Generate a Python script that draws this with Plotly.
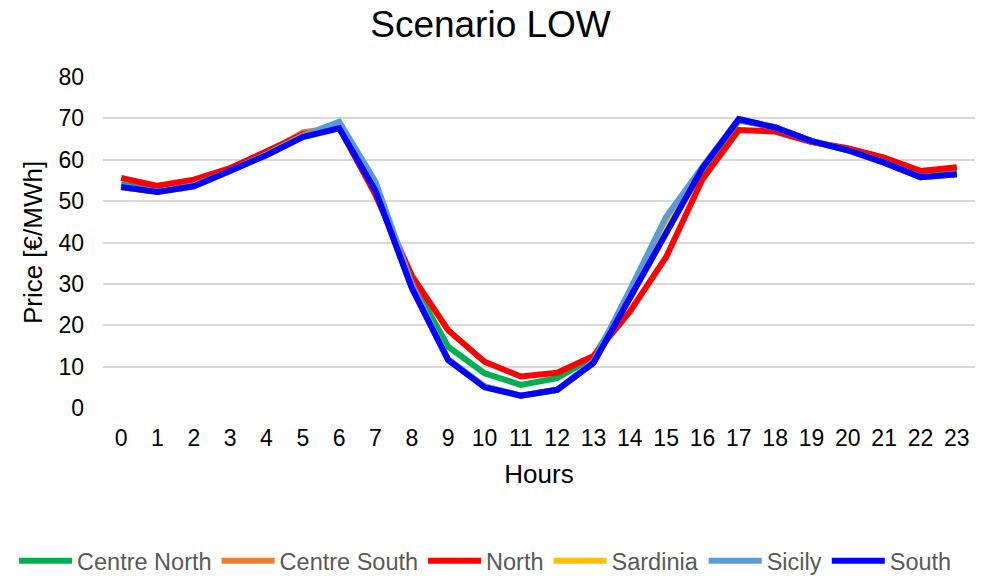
import plotly.graph_objects as go

hours = list(range(24))

centre_north = [54.0, 52.6, 54.0, 57.6, 62.0, 66.0, 68.0, 53.0, 30.5, 14.8, 8.4, 5.6, 7.2, 12.3, 26.5, 43.0, 57.5, 69.5, 67.8, 64.5, 62.5, 59.5, 56.0, 56.8]
centre_south = [53.4, 52.2, 53.6, 57.3, 61.5, 66.6, 67.9, 52.5, 29.0, 11.6, 5.2, 3.0, 4.4, 10.9, 26.5, 42.0, 58.0, 69.8, 67.8, 64.5, 62.3, 59.3, 55.8, 56.5]
north = [55.6, 53.7, 55.2, 58.0, 62.0, 66.2, 67.8, 51.5, 32.0, 18.8, 11.2, 7.6, 8.5, 12.6, 23.3, 36.5, 55.3, 67.2, 66.8, 64.3, 62.8, 60.5, 57.3, 58.2]
sardinia = [53.4, 52.2, 53.6, 57.2, 61.3, 65.8, 69.0, 54.5, 29.5, 11.6, 5.2, 3.0, 4.4, 11.0, 27.5, 44.5, 58.2, 69.8, 67.8, 64.5, 62.3, 59.3, 55.8, 56.5]
sicily = [53.6, 52.3, 53.8, 57.3, 61.3, 65.8, 69.2, 54.7, 30.0, 11.8, 5.2, 3.0, 4.4, 11.3, 28.5, 46.2, 58.3, 69.8, 67.8, 64.5, 62.3, 59.3, 55.8, 56.5]
south = [53.4, 52.2, 53.6, 57.2, 61.1, 65.5, 67.6, 52.5, 29.0, 11.6, 5.0, 3.0, 4.4, 10.9, 26.5, 42.0, 58.0, 69.8, 67.8, 64.5, 62.3, 59.3, 55.8, 56.5]

series = [
    ("Centre North", centre_north, "#00b050"),
    ("Centre South", centre_south, "#ed7d31"),
    ("North", north, "#ff0000"),
    ("Sardinia", sardinia, "#ffc000"),
    ("Sicily", sicily, "#5b9bd5"),
    ("South", south, "#0000ff"),
]

fig = go.Figure()
for name, vals, color in series:
    fig.add_trace(go.Scatter(
        x=hours, y=vals, name=name, mode="lines",
        line=dict(color=color, width=6),
    ))

font_family = "Liberation Sans, Arial, sans-serif"

fig.update_layout(
    width=981, height=576,
    margin=dict(l=103, r=6, t=77, b=168, autoexpand=False),
    paper_bgcolor="white", plot_bgcolor="white",
    font=dict(family=font_family, color="#000000"),
    title=dict(text="Scenario LOW", x=0.5, xanchor="center", y=0.958, yanchor="middle",
               font=dict(size=37, color="#000000", family=font_family)),
    xaxis=dict(
        range=[-0.5, 23.5], tickmode="array", tickvals=hours,
        ticktext=[str(h) for h in hours],
        tickfont=dict(size=23, color="#000000"),
        showgrid=False, zeroline=False, showline=False, ticks="",
        ticklabelstandoff=14,
        title=dict(text="Hours", font=dict(size=26, color="#000000"), standoff=14),
    ),
    yaxis=dict(
        range=[0, 80], tickmode="array", tickvals=list(range(0, 81, 10)),
        tickfont=dict(size=23, color="#000000"),
        showgrid=True, gridcolor="#d9d9d9", gridwidth=1.5,
        zeroline=False, showline=False, ticks="",
        ticklabelstandoff=18,
        title=dict(text="Price [€/MWh]", font=dict(size=26, color="#000000"), standoff=8),
    ),
    legend=dict(
        orientation="h", x=-0.102, xanchor="left", y=-0.462, yanchor="middle",
        font=dict(size=23.5, color="#595959"), itemwidth=53, tracegroupgap=0,
    ),
    showlegend=True,
)

fig.write_html("out.html")
